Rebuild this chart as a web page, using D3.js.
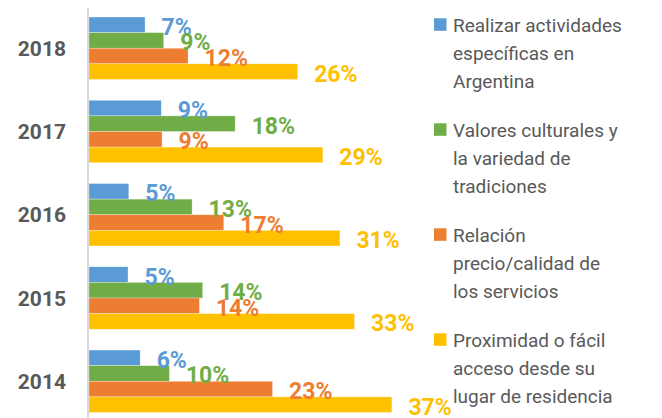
<!DOCTYPE html>
<html>
<head>
<meta charset="utf-8">
<script src="https://cdn.jsdelivr.net/npm/d3@7"></script>
<style>
  body { margin: 0; background: #fff; }
  svg { display: block; font-family: Roboto, "Open Sans", sans-serif; }
</style>
</head>
<body>
<div id="chart"></div>
<script>
// data (bar lengths estimated, labels rounded)
let years = ["2018", "2017", "2016", "2015", "2014"];
let seriesNames = [
  ["Realizar actividades", "específicas en", "Argentina"],
  ["Valores culturales y", "la variedad de", "tradiciones"],
  ["Relación", "precio/calidad de", "los servicios"],
  ["Proximidad o fácil", "acceso desde su", "lugar de residencia"]
];
let actividades = [6.9, 8.9, 4.9, 4.8, 6.3];
let culturales = [9.2, 18.0, 12.7, 14.0, 9.9];
let precio = [12.2, 9.0, 16.6, 13.6, 22.6];
let proximidad = [25.7, 28.8, 30.9, 32.7, 37.3];
let colors = ["#5B9BD5", "#70AD47", "#ED7D31", "#FFC000"];

let series = [actividades, culturales, precio, proximidad];

let width = 662;
let height = 418;

let svg = d3
  .select("#chart")
  .append("svg")
  .attr("width", width)
  .attr("height", height);

// scales
let xScale = d3.scaleLinear().domain([0, 40]).range([89, 89 + 40 * 8.12]);

let yScale = d3
  .scaleBand()
  .domain(years)
  .range([-3.8, 433.3])
  .paddingInner(0.25)
  .paddingOuter(0.25);

let subScale = d3
  .scaleBand()
  .domain(d3.range(series.length))
  .range([0, yScale.bandwidth()]);

// bars, one group per year
let groups = svg
  .selectAll(".year")
  .data(years)
  .enter()
  .append("g")
  .attr("class", "year")
  .attr("transform", d => "translate(0," + yScale(d) + ")");

groups.each(function(year, yi) {
  let g = d3.select(this);
  series.forEach(function(vals, si) {
    g.append("rect")
      .attr("x", xScale(0))
      .attr("y", subScale(si))
      .attr("width", xScale(vals[yi]) - xScale(0))
      .attr("height", subScale.bandwidth())
      .attr("fill", colors[si])
      .attr("stroke", "#fff")
      .attr("stroke-opacity", 0.5)
      .attr("stroke-width", 0.6);
  });
});

// value labels drawn after all bars so they sit on top
groups.each(function(year, yi) {
  let g = d3.select(this);
  series.forEach(function(vals, si) {
    g.append("text")
      .attr("x", xScale(vals[yi]) + 16.5)
      .attr("y", subScale(si) + subScale.bandwidth() / 2 + 10)
      .attr("fill", colors[si])
      .attr("font-size", "23px")
      .attr("font-weight", "bold")
      .text(Math.round(vals[yi]) + "%");
  });
});

// year labels
let yAxis = d3.axisLeft(yScale).tickSize(0).tickPadding(22);
let yAxisG = svg.append("g").attr("transform", "translate(88,0)").call(yAxis);
yAxisG.select(".domain").remove();
yAxisG
  .selectAll("text")
  .attr("font-family", "Roboto, sans-serif")
  .attr("font-size", "21px")
  .attr("font-weight", "bold")
  .attr("fill", "#595959")
  .attr("dy", "0.36em");

// vertical axis line
svg
  .append("line")
  .attr("x1", 88)
  .attr("x2", 88)
  .attr("y1", 8)
  .attr("y2", height)
  .attr("stroke", "#D9D9D9")
  .attr("stroke-width", 2);

// legend
let legend = svg
  .selectAll(".legend")
  .data(seriesNames)
  .enter()
  .append("g")
  .attr("class", "legend")
  .attr("transform", (d, i) => "translate(434," + (31.7 + i * 105) + ")");

legend
  .append("rect")
  .attr("x", 0)
  .attr("y", -13.4)
  .attr("width", 12.5)
  .attr("height", 12.5)
  .attr("fill", (d, i) => colors[i]);

legend
  .append("text")
  .attr("fill", "#595959")
  .attr("font-size", "19px")
  .selectAll("tspan")
  .data(d => d)
  .enter()
  .append("tspan")
  .attr("x", 19)
  .attr("y", (d, i) => i * 28.3)
  .text(d => d);
</script>
</body>
</html>
